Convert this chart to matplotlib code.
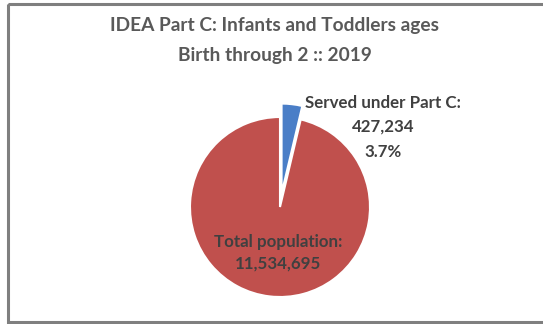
import matplotlib
matplotlib.use("Agg")
import matplotlib.pyplot as plt
from matplotlib.patches import Rectangle

# Data
title_lines = ["IDEA Part C: Infants and Toddlers ages", "Birth through 2 :: 2019"]
served = 427234
total_population = 11534695
slice_labels = ["Served under Part C", "Total population"]
slice_values = [served, total_population - served]
slice_colors = ["#4A7EC7", "#C0504D"]

W, H = 543, 324
DPI = 100
fig = plt.figure(figsize=(W / DPI, H / DPI), dpi=DPI)
fig.patch.set_facecolor("white")

# Overlay axes in pixel coordinates (origin top-left) for frame and text
ov = fig.add_axes([0, 0, 1, 1], zorder=3)
ov.set_xlim(0, W)
ov.set_ylim(H, 0)
ov.axis("off")
ov.patch.set_alpha(0)

# Chart frame (right side runs past the edge)
ov.add_patch(Rectangle((7.5, 3.5), W + 10, 318.5, fill=False,
                       edgecolor="#7f7f7f", linewidth=2.2))

FONT = ["Lato", "DejaVu Sans"]
ov.text(275, 25, title_lines[0], ha="center", va="center", fontsize=13.8,
        fontweight="bold", color="#595959", family=FONT)
ov.text(275, 55, title_lines[1], ha="center", va="center", fontsize=13.8,
        fontweight="bold", color="#595959", family=FONT)

# Pie axes: radius 1 spans 90 px, centred at (280, 207)
cx, cy, r_px = 280, 207, 90
half = 1.25 * r_px
pie_ax = fig.add_axes([(cx - half) / W, (H - cy - half) / H,
                       2 * half / W, 2 * half / H], zorder=2)
pie_ax.pie(slice_values, colors=slice_colors, startangle=90, counterclock=False,
           explode=[0.15, 0], radius=1,
           wedgeprops=dict(edgecolor="white", linewidth=1.5))
pie_ax.set_xlim(-1.25, 1.25)
pie_ax.set_ylim(-1.25, 1.25)
pie_ax.set_aspect("auto")
pie_ax.axis("off")

share = served / sum(slice_values) * 100
label_color = "#404040"
LS = 12.2
ov.text(383, 103, f"{slice_labels[0]}:", ha="center", va="center",
        fontsize=LS, fontweight="bold", color=label_color, family=FONT)
ov.text(383, 127, f"{served:,}", ha="center", va="center",
        fontsize=LS, fontweight="bold", color=label_color, family=FONT)
ov.text(383, 152, f"{share:.1f}%", ha="center", va="center",
        fontsize=LS, fontweight="bold", color=label_color, family=FONT)

ov.text(278, 242, f"{slice_labels[1]}:", ha="center", va="center",
        fontsize=LS, fontweight="bold", color=label_color, family=FONT)
ov.text(278, 264, f"{total_population:,}", ha="center", va="center",
        fontsize=LS, fontweight="bold", color=label_color, family=FONT)

fig.savefig("out.png", dpi=DPI)
